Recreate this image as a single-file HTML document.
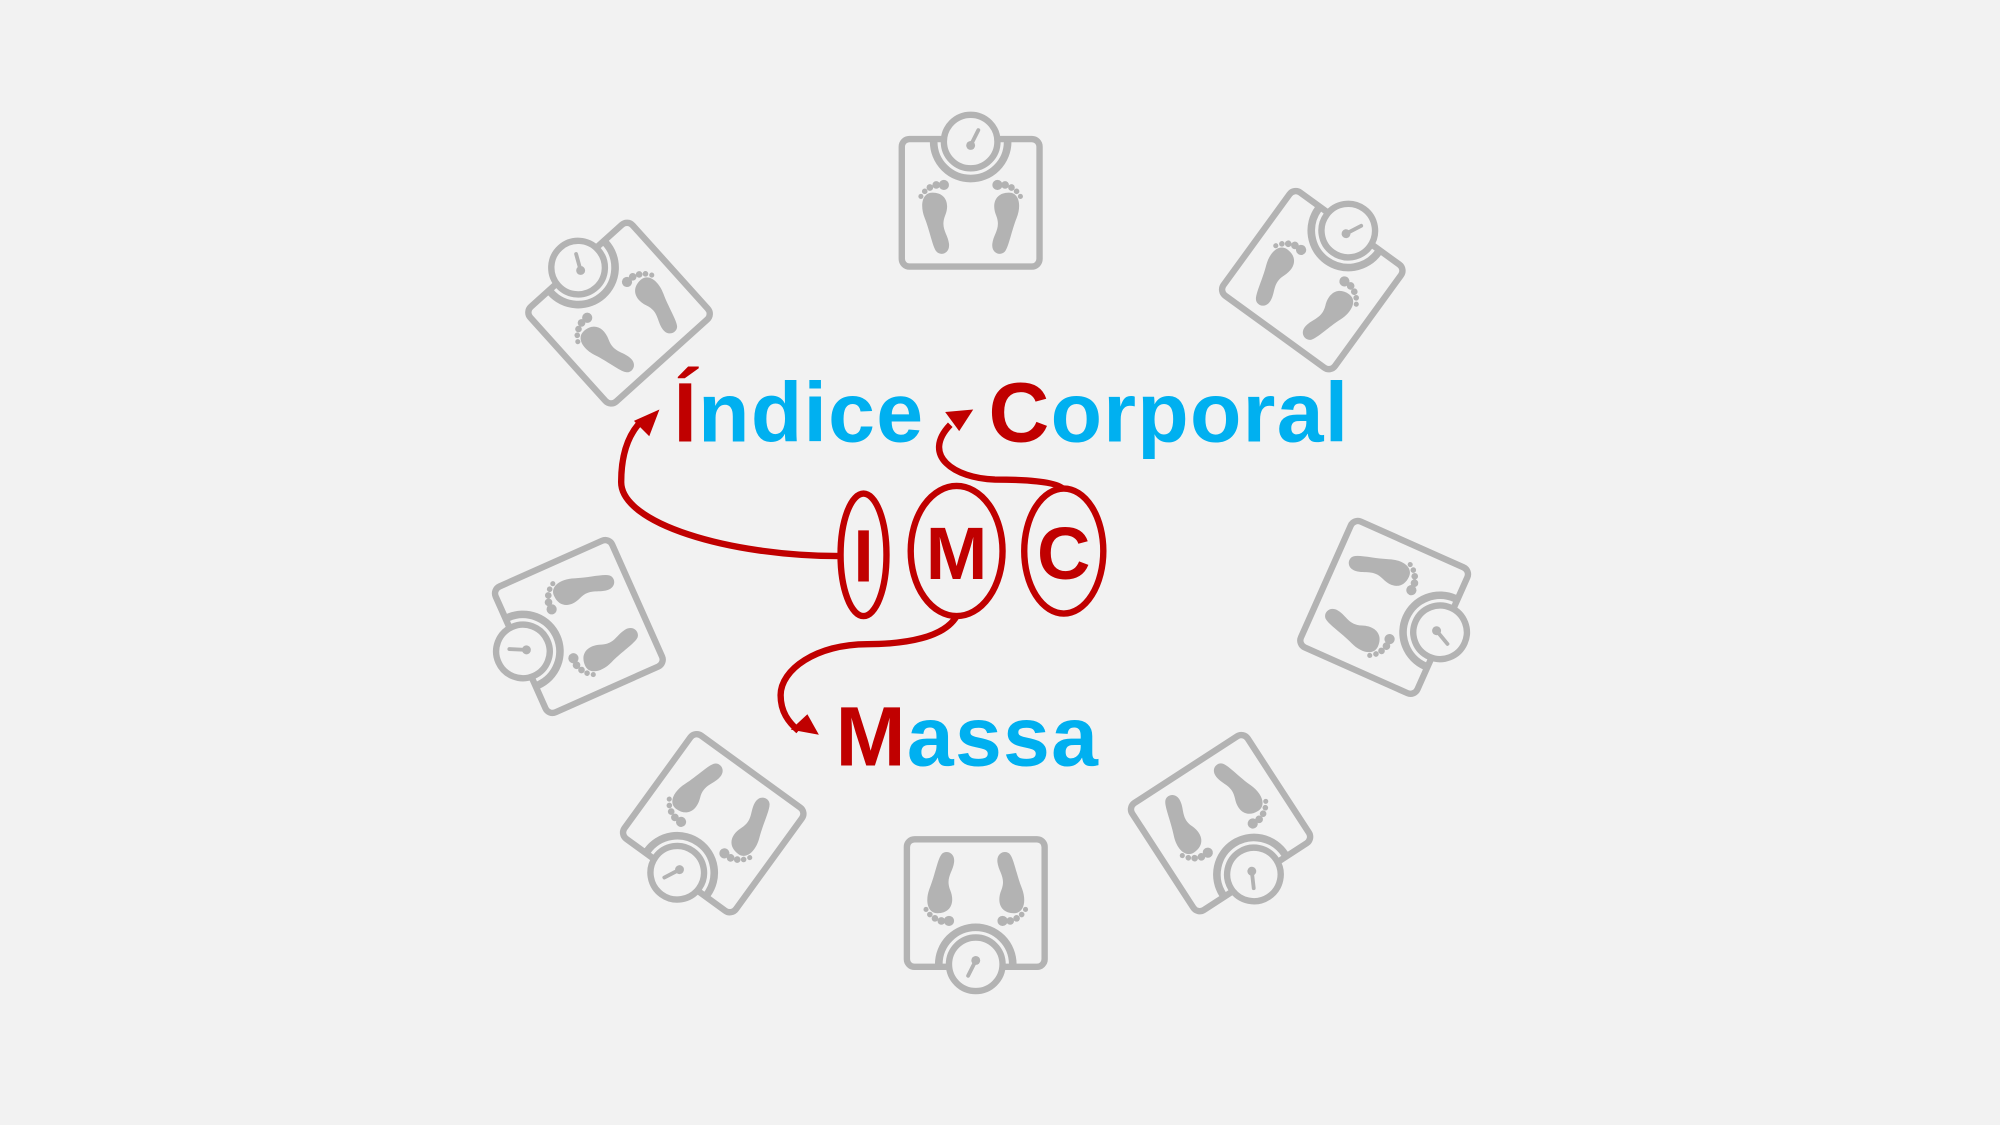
<!DOCTYPE html>
<html><head><meta charset="utf-8"><style>
html,body{margin:0;padding:0;background:#f2f2f2;}
svg{display:block;}
</style></head><body>
<svg width="2000" height="1125" viewBox="0 0 1568 882" xmlns="http://www.w3.org/2000/svg">
<defs>
<g id="scale">
  <rect x="-54" y="-48" width="108" height="100" rx="6" fill="none" stroke="#b3b3b3" stroke-width="5"/>
  <path d="M-29,-46 A29,29 0 0 0 29,-46" fill="none" stroke="#b3b3b3" stroke-width="6"/>
  <circle cx="0" cy="-46" r="21" fill="#f2f2f2" stroke="#b3b3b3" stroke-width="5"/>
  <line x1="0" y1="-43" x2="6" y2="-55" stroke="#b3b3b3" stroke-width="3" stroke-linecap="round"/>
  <circle cx="0" cy="-43" r="3.5" fill="#b3b3b3"/>
  <path d="M-30,-6 C-38,-6 -40,4 -36,14 C-32,24 -30,36 -27,40 C-24,44 -16,42 -17,34 C-18,26 -24,22 -20,12 C-16,2 -20,-6 -30,-6 Z" fill="#b3b3b3"/>
  <circle cx="-21" cy="-12" r="4" fill="#b3b3b3"/><circle cx="-27" cy="-12" r="3" fill="#b3b3b3"/>
  <circle cx="-32" cy="-10" r="2.6" fill="#b3b3b3"/><circle cx="-36" cy="-7" r="2.2" fill="#b3b3b3"/><circle cx="-39" cy="-3" r="2" fill="#b3b3b3"/>
  <path d="M30,-6 C38,-6 40,4 36,14 C32,24 30,36 27,40 C24,44 16,42 17,34 C18,26 24,22 20,12 C16,2 20,-6 30,-6 Z" fill="#b3b3b3"/>
  <circle cx="21" cy="-12" r="4" fill="#b3b3b3"/><circle cx="27" cy="-12" r="3" fill="#b3b3b3"/>
  <circle cx="32" cy="-10" r="2.6" fill="#b3b3b3"/><circle cx="36" cy="-7" r="2.2" fill="#b3b3b3"/><circle cx="39" cy="-3" r="2" fill="#b3b3b3"/>
</g>
</defs>
<use href="#scale" transform="translate(761,157) rotate(0)"/>
<use href="#scale" transform="translate(1030,218) rotate(36)"/>
<use href="#scale" transform="translate(1087,477) rotate(114)"/>
<use href="#scale" transform="translate(958,647) rotate(147)"/>
<use href="#scale" transform="translate(765,710) rotate(180)"/>
<use href="#scale" transform="translate(558,647) rotate(216)"/>
<use href="#scale" transform="translate(452,492) rotate(246)"/>
<use href="#scale" transform="translate(484,244) rotate(-42)"/>

<g font-family="'Liberation Sans', sans-serif" font-weight="bold" font-size="66" letter-spacing="1">
<text x="528" y="346"><tspan fill="#c00000">Í</tspan><tspan fill="#00b0f0">ndice</tspan></text>
<text x="775" y="346"><tspan fill="#c00000">C</tspan><tspan fill="#00b0f0">orporal</tspan></text>
<text x="655" y="600"><tspan fill="#c00000">M</tspan><tspan fill="#00b0f0">assa</tspan></text>
</g>

<g fill="none" stroke="#c00000" stroke-width="5">
<ellipse cx="677" cy="435" rx="18" ry="48"/>
<ellipse cx="750" cy="432" rx="36" ry="51"/>
<ellipse cx="834" cy="432" rx="31" ry="49"/>
<path d="M659,436 C570,436 487,410 487,378 C487,355 493,340 503,330"/>
<path d="M834,384 C830,377 800,376 780,376 C748,375 722,357 745,333"/>
<path d="M750,483 C740,500 710,505 680,505 C640,505 612,525 612,545 C612,558 618,566 626,573"/>
</g>
<g fill="#c00000">
<polygon points="517,321 497,330 509,342"/>
<polygon points="763,321 741,323 752,338"/>
<polygon points="642,576 633,560 620,572"/>
</g>
<g font-family="'Liberation Sans', sans-serif" font-weight="bold" font-size="58" fill="#c00000" text-anchor="middle">
<text x="677" y="456">I</text>
<text x="750" y="454">M</text>
<text x="834" y="454">C</text>
</g>
</svg>
</body></html>
